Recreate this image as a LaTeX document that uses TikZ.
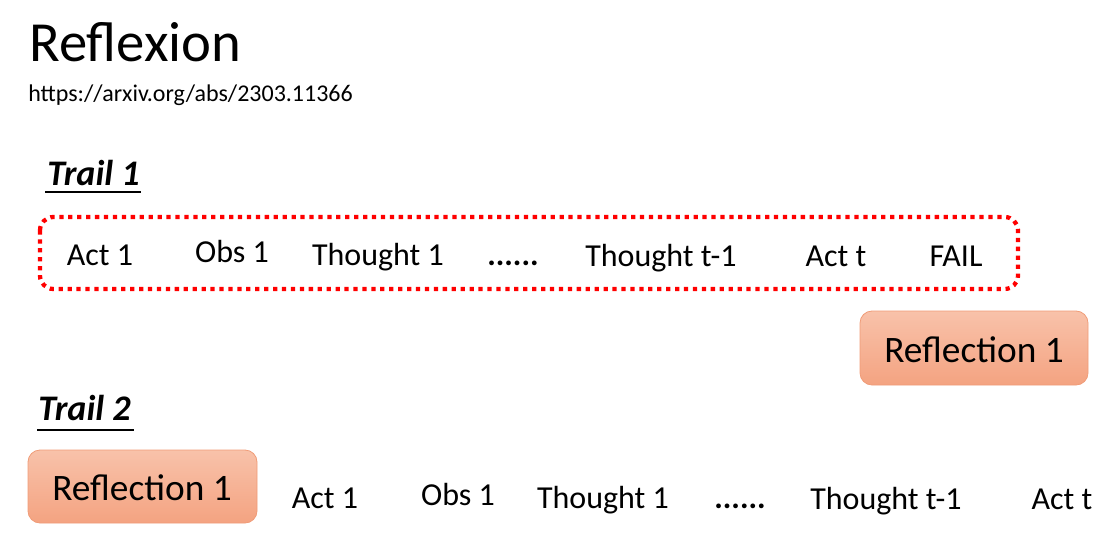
\documentclass[tikz,border=0pt]{standalone}
\usepackage{fontspec}
\setmainfont{Carlito}
\definecolor{refltop}{HTML}{F8C2AA}
\definecolor{reflbot}{HTML}{F4A381}
\definecolor{reflborder}{HTML}{F09C78}
\tikzset{
  steptext/.style={anchor=base, inner sep=0pt, font=\fontsize{24pt}{28pt}\selectfont},
  trailtitle/.style={anchor=base west, inner sep=0pt, font=\fontsize{27pt}{32pt}\selectfont\bfseries\itshape},
  reflbox/.style={rounded corners=9pt, top color=refltop, bottom color=reflbot, draw=reflborder, line width=0.6pt},
  refltext/.style={anchor=base, inner sep=0pt, font=\fontsize{28pt}{33pt}\selectfont},
  ulinestyle/.style={line width=1.2pt, black},
  trailbox/.style={draw=red, line width=3.2pt, dash pattern=on 3.2pt off 3.5pt, rounded corners=10pt}
}
\begin{document}
\begin{tikzpicture}[x=0.75pt, y=-0.75pt]
\useasboundingbox (0,0) rectangle (1120,542);
% title
\node[anchor=base west, inner sep=0pt, font=\fontsize{42.5pt}{50pt}\selectfont] (title) at (29,61) {Reflexion};
\node[anchor=base west, inner sep=0pt, font=\fontsize{18pt}{22pt}\selectfont] (url) at (28,102) {https://arxiv.org/abs/2303.11366};

% Trail 1
\node[trailtitle] (t1) at (47,185) {Trail 1};
\coordinate (u1a) at (45,192);
\coordinate (u1b) at (141,192);
\draw[ulinestyle] (u1a) -- (u1b);

\draw[trailbox] (40,217) rectangle (1018,289);

\node[steptext] (a1) at (100,265) {Act 1};
\node[steptext] (o1) at (232,262) {Obs 1};
\node[steptext] (th1) at (378,265) {Thought 1};
\node[steptext] (dots1) at (513,265) {\textbf{......}};
\node[steptext] (tht1) at (661,266) {Thought t-1};
\node[steptext] (at1) at (836,266) {Act t};
\node[steptext] (fail) at (956,266) {FAIL};

% Reflection box right
\draw[reflbox] (860,311) rectangle (1088,385);
\node[refltext] (r1) at (974,362) {Reflection 1};

% Trail 2
\node[trailtitle] (t2) at (38,420) {Trail 2};
\coordinate (u2a) at (37,430);
\coordinate (u2b) at (134,430);
\draw[ulinestyle] (u2a) -- (u2b);

\draw[reflbox] (28,450) rectangle (257,523);
\node[refltext] (r2) at (142,500) {Reflection 1};

\node[steptext] (a2) at (325,508) {Act 1};
\node[steptext] (o2) at (458,505) {Obs 1};
\node[steptext] (th2) at (603,508) {Thought 1};
\node[steptext] (dots2) at (740,508) {\textbf{......}};
\node[steptext] (tht2) at (886,509) {Thought t-1};
\node[steptext] (at2) at (1062,509) {Act t};
\end{tikzpicture}
\end{document}
